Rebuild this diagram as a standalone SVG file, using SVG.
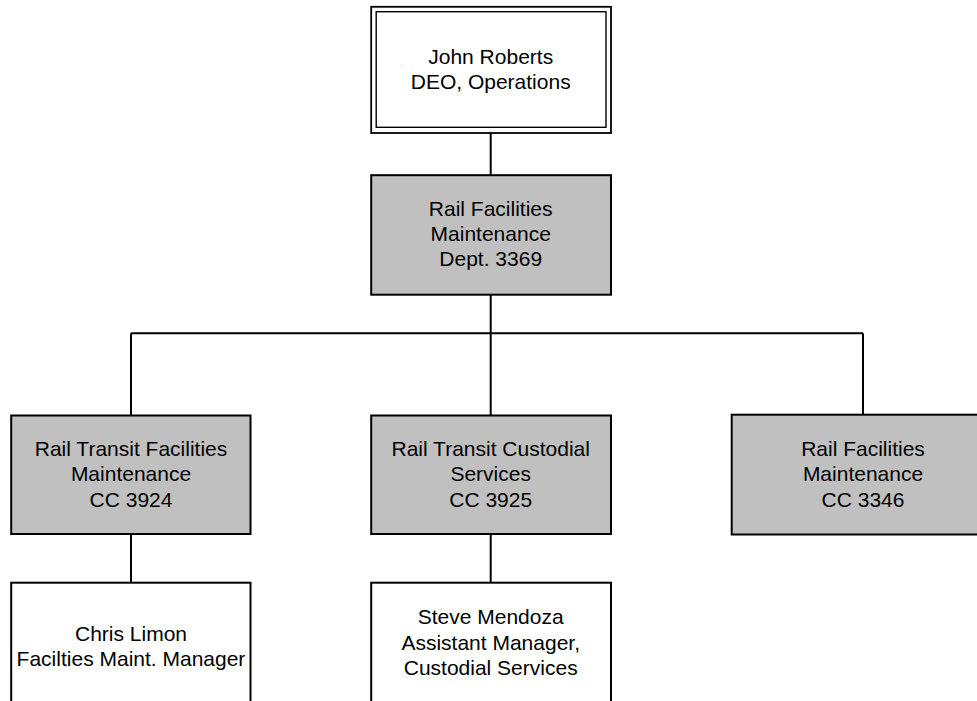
<svg xmlns="http://www.w3.org/2000/svg" width="977" height="701" viewBox="0 0 977 701">
<style>
.box{fill:#ffffff;stroke:#000000;stroke-width:2}
.gray{fill:#c0c0c0;stroke:#000000;stroke-width:2}
.conn{fill:none;stroke:#000000;stroke-width:2}
text{font-family:"Liberation Sans",Arial,sans-serif;font-size:21px;fill:#000000;text-anchor:middle}
</style>
<rect width="977" height="701" fill="#ffffff"/>
<g id="connectors">
<line class="conn" x1="490.7" y1="133" x2="490.7" y2="175"/>
<line class="conn" x1="490.7" y1="294.7" x2="490.7" y2="415.5"/>
<line class="conn" x1="131" y1="333.3" x2="863" y2="333.3"/>
<line class="conn" x1="131" y1="333.3" x2="131" y2="415.5"/>
<line class="conn" x1="863" y1="333.3" x2="863" y2="414.7"/>
<line class="conn" x1="131" y1="534" x2="131" y2="582.7"/>
<line class="conn" x1="490.7" y1="534" x2="490.7" y2="582.7"/>
</g>
<g id="john-roberts">
<rect x="371.2" y="6.8" width="239.8" height="126.2" fill="#ffffff" stroke="#000" stroke-width="1.8"/>
<rect x="376.2" y="11.7" width="229.8" height="115.6" fill="none" stroke="#000" stroke-width="1.4"/>
<text x="490.7" y="64">John Roberts</text>
<text x="490.7" y="88.5">DEO, Operations</text>
</g>
<g id="dept-3369">
<rect class="gray" x="371.2" y="175.2" width="239.8" height="119.5"/>
<text x="490.7" y="216">Rail Facilities</text>
<text x="490.7" y="241">Maintenance</text>
<text x="490.7" y="266">Dept. 3369</text>
</g>
<g id="cc-3924">
<rect class="gray" x="11.2" y="415.5" width="239.3" height="118.5"/>
<text x="131" y="456">Rail Transit Facilities</text>
<text x="131" y="481">Maintenance</text>
<text x="131" y="506.5">CC 3924</text>
</g>
<g id="cc-3925">
<rect class="gray" x="371.2" y="415.5" width="239.8" height="118.5"/>
<text x="490.7" y="456">Rail Transit Custodial</text>
<text x="490.7" y="481">Services</text>
<text x="490.7" y="506.5">CC 3925</text>
</g>
<g id="cc-3346">
<rect class="gray" x="731.7" y="414.7" width="262.6" height="119.8"/>
<text x="863" y="456">Rail Facilities</text>
<text x="863" y="481">Maintenance</text>
<text x="863" y="506.7">CC 3346</text>
</g>
<g id="chris-limon">
<rect class="box" x="11.2" y="582.7" width="239.3" height="130"/>
<text x="131" y="641">Chris Limon</text>
<text x="131" y="666">Facilties Maint. Manager</text>
</g>
<g id="steve-mendoza">
<rect class="box" x="371.2" y="582.7" width="239.8" height="130"/>
<text x="490.7" y="624">Steve Mendoza</text>
<text x="490.7" y="649.5">Assistant Manager,</text>
<text x="490.7" y="675">Custodial Services</text>
</g>
</svg>
